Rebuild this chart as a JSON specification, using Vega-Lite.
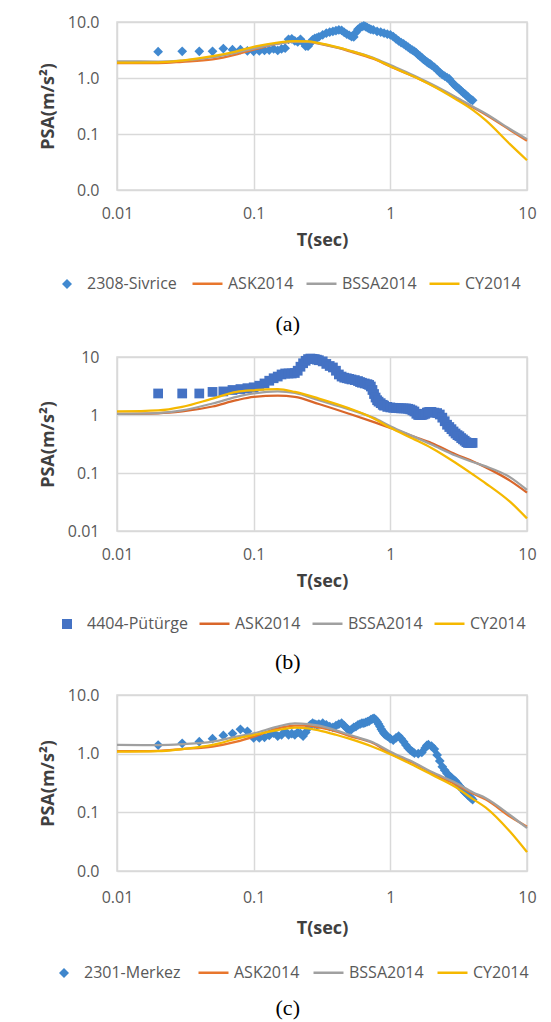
{
  "$schema": "https://vega.github.io/schema/vega-lite/v6.json",
  "background": "white",
  "padding": {"left": 38, "top": 13, "right": 5, "bottom": 0},
  "spacing": 12,
  "datasets": {
    "a_obs": [
      {"T":0.02,"2308-Sivrice":2.95},{"T":0.03,"2308-Sivrice":3.0},{"T":0.04,"2308-Sivrice":3.0},{"T":0.05,"2308-Sivrice":3.0},{"T":0.06,"2308-Sivrice":3.35},{"T":0.07,"2308-Sivrice":3.2},{"T":0.08,"2308-Sivrice":3.2},{"T":0.09,"2308-Sivrice":3.05},{"T":0.10,"2308-Sivrice":3.0},{"T":0.11,"2308-Sivrice":3.05},{"T":0.12,"2308-Sivrice":3.1},{"T":0.13,"2308-Sivrice":3.15},{"T":0.14,"2308-Sivrice":3.3},{"T":0.15,"2308-Sivrice":3.1},{"T":0.16,"2308-Sivrice":3.3},{"T":0.17,"2308-Sivrice":3.4},{"T":0.18,"2308-Sivrice":4.9},{"T":0.19,"2308-Sivrice":5.0},{"T":0.20,"2308-Sivrice":4.6},{"T":0.21,"2308-Sivrice":4.4},{"T":0.22,"2308-Sivrice":4.9},{"T":0.23,"2308-Sivrice":4.3},{"T":0.24,"2308-Sivrice":3.7},{"T":0.25,"2308-Sivrice":3.7},{"T":0.26,"2308-Sivrice":4.2},{"T":0.27,"2308-Sivrice":4.8},{"T":0.28,"2308-Sivrice":5.1},{"T":0.29,"2308-Sivrice":5.2},{"T":0.30,"2308-Sivrice":5.4},{"T":0.32,"2308-Sivrice":5.9},{"T":0.34,"2308-Sivrice":6.3},{"T":0.36,"2308-Sivrice":6.6},{"T":0.38,"2308-Sivrice":6.8},{"T":0.40,"2308-Sivrice":7.0},{"T":0.42,"2308-Sivrice":7.2},{"T":0.44,"2308-Sivrice":7.1},{"T":0.46,"2308-Sivrice":6.5},{"T":0.48,"2308-Sivrice":6.1},{"T":0.50,"2308-Sivrice":5.8},{"T":0.52,"2308-Sivrice":5.5},{"T":0.54,"2308-Sivrice":5.4},{"T":0.56,"2308-Sivrice":6.5},{"T":0.58,"2308-Sivrice":7.4},{"T":0.60,"2308-Sivrice":7.9},{"T":0.62,"2308-Sivrice":8.3},{"T":0.64,"2308-Sivrice":8.5},{"T":0.66,"2308-Sivrice":8.3},{"T":0.68,"2308-Sivrice":7.9},{"T":0.70,"2308-Sivrice":7.6},{"T":0.72,"2308-Sivrice":7.4},{"T":0.75,"2308-Sivrice":7.2},{"T":0.80,"2308-Sivrice":6.8},{"T":0.85,"2308-Sivrice":6.6},{"T":0.90,"2308-Sivrice":6.3},{"T":0.95,"2308-Sivrice":6.1},{"T":1.00,"2308-Sivrice":5.9},{"T":1.05,"2308-Sivrice":5.5},{"T":1.10,"2308-Sivrice":5.0},{"T":1.15,"2308-Sivrice":4.6},{"T":1.20,"2308-Sivrice":4.3},{"T":1.25,"2308-Sivrice":4.05},{"T":1.30,"2308-Sivrice":3.8},{"T":1.35,"2308-Sivrice":3.55},{"T":1.40,"2308-Sivrice":3.3},{"T":1.45,"2308-Sivrice":3.15},{"T":1.50,"2308-Sivrice":3.0},{"T":1.55,"2308-Sivrice":2.8},{"T":1.60,"2308-Sivrice":2.6},{"T":1.65,"2308-Sivrice":2.45},{"T":1.70,"2308-Sivrice":2.3},{"T":1.75,"2308-Sivrice":2.15},{"T":1.80,"2308-Sivrice":2.05},{"T":1.85,"2308-Sivrice":1.95},{"T":1.90,"2308-Sivrice":1.85},{"T":1.95,"2308-Sivrice":1.78},{"T":2.00,"2308-Sivrice":1.7},{"T":2.10,"2308-Sivrice":1.55},{"T":2.20,"2308-Sivrice":1.4},{"T":2.30,"2308-Sivrice":1.25},{"T":2.40,"2308-Sivrice":1.15},{"T":2.50,"2308-Sivrice":1.08},{"T":2.60,"2308-Sivrice":1.02},{"T":2.70,"2308-Sivrice":0.96},{"T":2.80,"2308-Sivrice":0.86},{"T":2.90,"2308-Sivrice":0.78},{"T":3.00,"2308-Sivrice":0.72},{"T":3.10,"2308-Sivrice":0.67},{"T":3.20,"2308-Sivrice":0.63},{"T":3.30,"2308-Sivrice":0.59},{"T":3.40,"2308-Sivrice":0.55},{"T":3.50,"2308-Sivrice":0.52},{"T":3.60,"2308-Sivrice":0.49},{"T":3.70,"2308-Sivrice":0.46},{"T":3.80,"2308-Sivrice":0.43},{"T":3.90,"2308-Sivrice":0.41},{"T":4.00,"2308-Sivrice":0.40}
    ],
    "a_gmm": [
      {"T":0.01,"ASK2014":1.85,"BSSA2014":1.98,"CY2014":1.88},
      {"T":0.02,"ASK2014":1.85,"BSSA2014":1.97,"CY2014":1.9},
      {"T":0.03,"ASK2014":1.95,"BSSA2014":2.05,"CY2014":2.05},
      {"T":0.05,"ASK2014":2.15,"BSSA2014":2.35,"CY2014":2.45},
      {"T":0.075,"ASK2014":2.65,"BSSA2014":2.85,"CY2014":3.0},
      {"T":0.1,"ASK2014":3.2,"BSSA2014":3.35,"CY2014":3.6},
      {"T":0.15,"ASK2014":4.1,"BSSA2014":4.1,"CY2014":4.3},
      {"T":0.2,"ASK2014":4.45,"BSSA2014":4.45,"CY2014":4.55},
      {"T":0.25,"ASK2014":4.4,"BSSA2014":4.4,"CY2014":4.5},
      {"T":0.3,"ASK2014":4.1,"BSSA2014":4.15,"CY2014":4.2},
      {"T":0.4,"ASK2014":3.5,"BSSA2014":3.55,"CY2014":3.6},
      {"T":0.5,"ASK2014":3.0,"BSSA2014":3.1,"CY2014":3.1},
      {"T":0.75,"ASK2014":2.2,"BSSA2014":2.3,"CY2014":2.25},
      {"T":1,"ASK2014":1.6,"BSSA2014":1.7,"CY2014":1.62},
      {"T":1.5,"ASK2014":1.05,"BSSA2014":1.1,"CY2014":1.05},
      {"T":2,"ASK2014":0.75,"BSSA2014":0.78,"CY2014":0.74},
      {"T":3,"ASK2014":0.45,"BSSA2014":0.46,"CY2014":0.42},
      {"T":4,"ASK2014":0.3,"BSSA2014":0.31,"CY2014":0.27},
      {"T":5,"ASK2014":0.22,"BSSA2014":0.23,"CY2014":0.175},
      {"T":7.5,"ASK2014":0.118,"BSSA2014":0.123,"CY2014":0.066},
      {"T":10,"ASK2014":0.076,"BSSA2014":0.081,"CY2014":0.034}
    ],
    "b_obs": [
      {"T":0.02,"4404-Pütürge":2.35},{"T":0.03,"4404-Pütürge":2.35},{"T":0.04,"4404-Pütürge":2.35},{"T":0.05,"4404-Pütürge":2.5},{"T":0.06,"4404-Pütürge":2.55},{"T":0.07,"4404-Pütürge":2.7},{"T":0.08,"4404-Pütürge":2.8},{"T":0.09,"4404-Pütürge":2.9},{"T":0.10,"4404-Pütürge":3.0},{"T":0.11,"4404-Pütürge":3.2},{"T":0.12,"4404-Pütürge":3.5},{"T":0.13,"4404-Pütürge":3.9},{"T":0.14,"4404-Pütürge":4.3},{"T":0.15,"4404-Pütürge":4.6},{"T":0.16,"4404-Pütürge":5.0},{"T":0.17,"4404-Pütürge":5.2},{"T":0.18,"4404-Pütürge":5.2},{"T":0.19,"4404-Pütürge":5.2},{"T":0.20,"4404-Pütürge":5.3},{"T":0.21,"4404-Pütürge":5.8},{"T":0.22,"4404-Pütürge":6.8},{"T":0.23,"4404-Pütürge":7.8},{"T":0.24,"4404-Pütürge":8.6},{"T":0.25,"4404-Pütürge":9.2},{"T":0.26,"4404-Pütürge":9.4},{"T":0.27,"4404-Pütürge":9.3},{"T":0.28,"4404-Pütürge":9.2},{"T":0.29,"4404-Pütürge":9.0},{"T":0.30,"4404-Pütürge":8.8},{"T":0.32,"4404-Pütürge":8.4},{"T":0.34,"4404-Pütürge":7.6},{"T":0.36,"4404-Pütürge":7.0},{"T":0.38,"4404-Pütürge":6.6},{"T":0.40,"4404-Pütürge":5.8},{"T":0.42,"4404-Pütürge":5.0},{"T":0.44,"4404-Pütürge":4.6},{"T":0.46,"4404-Pütürge":4.4},{"T":0.48,"4404-Pütürge":4.3},{"T":0.50,"4404-Pütürge":4.2},{"T":0.52,"4404-Pütürge":4.1},{"T":0.55,"4404-Pütürge":4.0},{"T":0.58,"4404-Pütürge":3.85},{"T":0.60,"4404-Pütürge":3.7},{"T":0.62,"4404-Pütürge":3.6},{"T":0.65,"4404-Pütürge":3.5},{"T":0.68,"4404-Pütürge":3.4},{"T":0.70,"4404-Pütürge":3.3},{"T":0.72,"4404-Pütürge":3.1},{"T":0.74,"4404-Pütürge":2.7},{"T":0.76,"4404-Pütürge":2.3},{"T":0.78,"4404-Pütürge":2.0},{"T":0.80,"4404-Pütürge":1.8},{"T":0.82,"4404-Pütürge":1.7},{"T":0.85,"4404-Pütürge":1.6},{"T":0.88,"4404-Pütürge":1.5},{"T":0.90,"4404-Pütürge":1.45},{"T":0.95,"4404-Pütürge":1.38},{"T":1.00,"4404-Pütürge":1.35},{"T":1.05,"4404-Pütürge":1.33},{"T":1.10,"4404-Pütürge":1.32},{"T":1.15,"4404-Pütürge":1.31},{"T":1.20,"4404-Pütürge":1.3},{"T":1.25,"4404-Pütürge":1.3},{"T":1.30,"4404-Pütürge":1.3},{"T":1.35,"4404-Pütürge":1.28},{"T":1.40,"4404-Pütürge":1.25},{"T":1.45,"4404-Pütürge":1.2},{"T":1.50,"4404-Pütürge":1.15},{"T":1.55,"4404-Pütürge":1.05},{"T":1.60,"4404-Pütürge":1.0},{"T":1.65,"4404-Pütürge":1.0},{"T":1.70,"4404-Pütürge":1.0},{"T":1.75,"4404-Pütürge":1.02},{"T":1.80,"4404-Pütürge":1.05},{"T":1.85,"4404-Pütürge":1.1},{"T":1.90,"4404-Pütürge":1.12},{"T":1.95,"4404-Pütürge":1.13},{"T":2.00,"4404-Pütürge":1.13},{"T":2.10,"4404-Pütürge":1.1},{"T":2.20,"4404-Pütürge":1.08},{"T":2.30,"4404-Pütürge":1.02},{"T":2.40,"4404-Pütürge":0.9},{"T":2.50,"4404-Pütürge":0.78},{"T":2.60,"4404-Pütürge":0.68},{"T":2.70,"4404-Pütürge":0.62},{"T":2.80,"4404-Pütürge":0.57},{"T":2.90,"4404-Pütürge":0.52},{"T":3.00,"4404-Pütürge":0.48},{"T":3.10,"4404-Pütürge":0.45},{"T":3.20,"4404-Pütürge":0.43},{"T":3.30,"4404-Pütürge":0.4},{"T":3.40,"4404-Pütürge":0.38},{"T":3.50,"4404-Pütürge":0.36},{"T":3.60,"4404-Pütürge":0.34},{"T":3.70,"4404-Pütürge":0.33},{"T":3.80,"4404-Pütürge":0.33},{"T":3.90,"4404-Pütürge":0.33},{"T":4.00,"4404-Pütürge":0.33}
    ],
    "b_gmm": [
      {"T":0.01,"ASK2014":1.05,"BSSA2014":1.05,"CY2014":1.15},
      {"T":0.02,"ASK2014":1.07,"BSSA2014":1.08,"CY2014":1.2},
      {"T":0.03,"ASK2014":1.15,"BSSA2014":1.2,"CY2014":1.38},
      {"T":0.05,"ASK2014":1.4,"BSSA2014":1.58,"CY2014":1.92},
      {"T":0.075,"ASK2014":1.8,"BSSA2014":2.05,"CY2014":2.5},
      {"T":0.1,"ASK2014":2.05,"BSSA2014":2.35,"CY2014":2.67},
      {"T":0.15,"ASK2014":2.15,"BSSA2014":2.55,"CY2014":2.78},
      {"T":0.2,"ASK2014":2.05,"BSSA2014":2.4,"CY2014":2.5},
      {"T":0.3,"ASK2014":1.55,"BSSA2014":1.8,"CY2014":1.92},
      {"T":0.5,"ASK2014":1.05,"BSSA2014":1.25,"CY2014":1.3},
      {"T":0.75,"ASK2014":0.76,"BSSA2014":0.9,"CY2014":0.88},
      {"T":1,"ASK2014":0.6,"BSSA2014":0.64,"CY2014":0.6},
      {"T":1.5,"ASK2014":0.42,"BSSA2014":0.42,"CY2014":0.38},
      {"T":2,"ASK2014":0.33,"BSSA2014":0.31,"CY2014":0.27},
      {"T":3,"ASK2014":0.21,"BSSA2014":0.2,"CY2014":0.15},
      {"T":4,"ASK2014":0.16,"BSSA2014":0.155,"CY2014":0.095},
      {"T":5,"ASK2014":0.125,"BSSA2014":0.13,"CY2014":0.066},
      {"T":7.5,"ASK2014":0.074,"BSSA2014":0.085,"CY2014":0.032},
      {"T":10,"ASK2014":0.046,"BSSA2014":0.051,"CY2014":0.0165}
    ],
    "c_obs": [
      {"T":0.02,"2301-Merkez":1.4},{"T":0.03,"2301-Merkez":1.5},{"T":0.04,"2301-Merkez":1.6},{"T":0.05,"2301-Merkez":1.8},{"T":0.06,"2301-Merkez":2.05},{"T":0.07,"2301-Merkez":2.2},{"T":0.08,"2301-Merkez":2.6},{"T":0.09,"2301-Merkez":2.4},{"T":0.10,"2301-Merkez":1.85},{"T":0.11,"2301-Merkez":1.85},{"T":0.12,"2301-Merkez":1.9},{"T":0.13,"2301-Merkez":2.05},{"T":0.14,"2301-Merkez":2.25},{"T":0.15,"2301-Merkez":2.0},{"T":0.16,"2301-Merkez":2.1},{"T":0.17,"2301-Merkez":2.4},{"T":0.18,"2301-Merkez":2.1},{"T":0.19,"2301-Merkez":2.2},{"T":0.20,"2301-Merkez":2.1},{"T":0.21,"2301-Merkez":2.3},{"T":0.22,"2301-Merkez":2.2},{"T":0.23,"2301-Merkez":2.0},{"T":0.24,"2301-Merkez":2.3},{"T":0.25,"2301-Merkez":2.7},{"T":0.26,"2301-Merkez":3.1},{"T":0.27,"2301-Merkez":3.3},{"T":0.28,"2301-Merkez":3.2},{"T":0.29,"2301-Merkez":3.1},{"T":0.30,"2301-Merkez":3.2},{"T":0.32,"2301-Merkez":3.3},{"T":0.34,"2301-Merkez":3.1},{"T":0.36,"2301-Merkez":2.9},{"T":0.38,"2301-Merkez":2.8},{"T":0.40,"2301-Merkez":3.0},{"T":0.42,"2301-Merkez":3.2},{"T":0.44,"2301-Merkez":3.3},{"T":0.46,"2301-Merkez":3.0},{"T":0.48,"2301-Merkez":2.7},{"T":0.50,"2301-Merkez":2.5},{"T":0.52,"2301-Merkez":2.6},{"T":0.54,"2301-Merkez":2.8},{"T":0.56,"2301-Merkez":2.9},{"T":0.58,"2301-Merkez":3.1},{"T":0.60,"2301-Merkez":3.2},{"T":0.62,"2301-Merkez":3.3},{"T":0.64,"2301-Merkez":3.3},{"T":0.66,"2301-Merkez":3.4},{"T":0.68,"2301-Merkez":3.5},{"T":0.70,"2301-Merkez":3.6},{"T":0.72,"2301-Merkez":3.8},{"T":0.74,"2301-Merkez":3.9},{"T":0.76,"2301-Merkez":4.0},{"T":0.78,"2301-Merkez":3.8},{"T":0.80,"2301-Merkez":3.5},{"T":0.82,"2301-Merkez":3.2},{"T":0.84,"2301-Merkez":2.9},{"T":0.86,"2301-Merkez":2.6},{"T":0.88,"2301-Merkez":2.4},{"T":0.90,"2301-Merkez":2.2},{"T":0.92,"2301-Merkez":2.1},{"T":0.95,"2301-Merkez":2.0},{"T":1.00,"2301-Merkez":1.8},{"T":1.05,"2301-Merkez":1.7},{"T":1.10,"2301-Merkez":1.85},{"T":1.15,"2301-Merkez":2.0},{"T":1.20,"2301-Merkez":1.8},{"T":1.25,"2301-Merkez":1.6},{"T":1.30,"2301-Merkez":1.4},{"T":1.35,"2301-Merkez":1.25},{"T":1.40,"2301-Merkez":1.15},{"T":1.45,"2301-Merkez":1.08},{"T":1.50,"2301-Merkez":1.02},{"T":1.60,"2301-Merkez":1.0},{"T":1.70,"2301-Merkez":1.05},{"T":1.80,"2301-Merkez":1.25},{"T":1.85,"2301-Merkez":1.38},{"T":1.90,"2301-Merkez":1.42},{"T":2.00,"2301-Merkez":1.35},{"T":2.10,"2301-Merkez":1.2},{"T":2.20,"2301-Merkez":0.95},{"T":2.30,"2301-Merkez":0.75},{"T":2.40,"2301-Merkez":0.6},{"T":2.50,"2301-Merkez":0.52},{"T":2.60,"2301-Merkez":0.46},{"T":2.70,"2301-Merkez":0.42},{"T":2.80,"2301-Merkez":0.39},{"T":2.90,"2301-Merkez":0.36},{"T":3.00,"2301-Merkez":0.34},{"T":3.10,"2301-Merkez":0.31},{"T":3.20,"2301-Merkez":0.28},{"T":3.30,"2301-Merkez":0.26},{"T":3.40,"2301-Merkez":0.24},{"T":3.50,"2301-Merkez":0.22},{"T":3.60,"2301-Merkez":0.21},{"T":3.70,"2301-Merkez":0.195},{"T":3.80,"2301-Merkez":0.185},{"T":3.90,"2301-Merkez":0.175},{"T":4.00,"2301-Merkez":0.165}
    ],
    "c_gmm": [
      {"T":0.01,"ASK2014":1.1,"BSSA2014":1.41,"CY2014":1.08},
      {"T":0.02,"ASK2014":1.12,"BSSA2014":1.4,"CY2014":1.1},
      {"T":0.03,"ASK2014":1.2,"BSSA2014":1.45,"CY2014":1.2},
      {"T":0.05,"ASK2014":1.32,"BSSA2014":1.6,"CY2014":1.41},
      {"T":0.075,"ASK2014":1.6,"BSSA2014":1.95,"CY2014":1.8},
      {"T":0.1,"ASK2014":1.95,"BSSA2014":2.22,"CY2014":2.08},
      {"T":0.15,"ASK2014":2.7,"BSSA2014":2.9,"CY2014":2.53},
      {"T":0.2,"ASK2014":3.0,"BSSA2014":3.29,"CY2014":2.78},
      {"T":0.25,"ASK2014":3.0,"BSSA2014":3.2,"CY2014":2.7},
      {"T":0.3,"ASK2014":2.8,"BSSA2014":3.0,"CY2014":2.5},
      {"T":0.4,"ASK2014":2.4,"BSSA2014":2.5,"CY2014":2.1},
      {"T":0.5,"ASK2014":2.0,"BSSA2014":2.1,"CY2014":1.8},
      {"T":0.75,"ASK2014":1.5,"BSSA2014":1.55,"CY2014":1.3},
      {"T":1,"ASK2014":1.0,"BSSA2014":1.08,"CY2014":0.98},
      {"T":1.5,"ASK2014":0.68,"BSSA2014":0.7,"CY2014":0.62},
      {"T":2,"ASK2014":0.47,"BSSA2014":0.49,"CY2014":0.44},
      {"T":3,"ASK2014":0.3,"BSSA2014":0.32,"CY2014":0.27},
      {"T":4,"ASK2014":0.21,"BSSA2014":0.22,"CY2014":0.17},
      {"T":5,"ASK2014":0.165,"BSSA2014":0.174,"CY2014":0.12},
      {"T":7.5,"ASK2014":0.085,"BSSA2014":0.09,"CY2014":0.047},
      {"T":10,"ASK2014":0.057,"BSSA2014":0.054,"CY2014":0.021}
    ]
  },
  "vconcat": [
    {
      "width": 410, "height": 168,
      "title": {"text": "(a)", "orient": "bottom", "offset": 22},
      "layer": [
        {
          "data": {"name": "a_obs"},
          "transform": [{"fold": ["2308-Sivrice"], "as": ["series", "psa"]}],
          "mark": {"type": "point", "shape": "diamond", "filled": true, "size": 95, "opacity": 1},
          "encoding": {
            "x": {"field": "T", "type": "quantitative", "scale": {"type": "log", "domain": [0.01, 10], "nice": false}, "axis": {"values": [0.01, 0.1, 1, 10], "format": "~g", "title": "T(sec)"}},
            "y": {"field": "psa", "type": "quantitative", "scale": {"type": "log", "domain": [0.01, 10], "nice": false}, "axis": {"values": [0.01, 0.1, 1, 10], "format": ".1f", "title": "PSA(m/s²)"}},
            "fill": {
              "field": "series", "type": "nominal",
              "scale": {"domain": ["2308-Sivrice"], "range": ["#4189D0"]},
              "legend": {"orient": "none", "direction": "horizontal", "title": null, "legendX": -58, "legendY": 254, "symbolType": "diamond", "symbolSize": 100, "labelOffset": 12}
            }
          }
        },
        {
          "data": {"name": "a_gmm"},
          "transform": [{"fold": ["ASK2014", "BSSA2014", "CY2014"], "as": ["series", "psa"]}],
          "mark": {"type": "line", "interpolate": "monotone", "strokeWidth": 2.25},
          "encoding": {
            "x": {"field": "T", "type": "quantitative"},
            "y": {"field": "psa", "type": "quantitative"},
            "stroke": {
              "field": "series", "type": "nominal",
              "scale": {"domain": ["ASK2014", "BSSA2014", "CY2014"], "range": ["#E8762D", "#A0A0A0", "#F5B800"]},
              "legend": {"orient": "none", "direction": "horizontal", "title": null, "legendX": 74, "legendY": 245, "symbolType": "stroke", "symbolSize": 900, "symbolStrokeWidth": 2.5, "labelOffset": 4, "columnPadding": 7}
            }
          }
        }
      ]
    },
    {
      "width": 410, "height": 174,
      "title": {"text": "(b)", "orient": "bottom", "offset": 20},
      "layer": [
        {
          "data": {"name": "b_obs"},
          "transform": [{"fold": ["4404-Pütürge"], "as": ["series", "psa"]}],
          "mark": {"type": "point", "shape": "square", "filled": true, "size": 95, "opacity": 1},
          "encoding": {
            "x": {"field": "T", "type": "quantitative", "scale": {"type": "log", "domain": [0.01, 10], "nice": false}, "axis": {"values": [0.01, 0.1, 1, 10], "format": "~g", "title": "T(sec)"}},
            "y": {"field": "psa", "type": "quantitative", "scale": {"type": "log", "domain": [0.01, 10], "nice": false}, "axis": {"values": [0.01, 0.1, 1, 10], "format": "~g", "title": "PSA(m/s²)"}},
            "fill": {
              "field": "series", "type": "nominal",
              "scale": {"domain": ["4404-Pütürge"], "range": ["#4472C4"]},
              "legend": {"orient": "none", "direction": "horizontal", "title": null, "legendX": -58, "legendY": 259, "symbolType": "square", "symbolSize": 100, "labelOffset": 12}
            }
          }
        },
        {
          "data": {"name": "b_gmm"},
          "transform": [{"fold": ["ASK2014", "BSSA2014", "CY2014"], "as": ["series", "psa"]}],
          "mark": {"type": "line", "interpolate": "monotone", "strokeWidth": 2.25},
          "encoding": {
            "x": {"field": "T", "type": "quantitative"},
            "y": {"field": "psa", "type": "quantitative"},
            "stroke": {
              "field": "series", "type": "nominal",
              "scale": {"domain": ["ASK2014", "BSSA2014", "CY2014"], "range": ["#D9662A", "#A0A0A0", "#F5B800"]},
              "legend": {"orient": "none", "direction": "horizontal", "title": null, "legendX": 81, "legendY": 250, "symbolType": "stroke", "symbolSize": 900, "symbolStrokeWidth": 2.5, "labelOffset": 4, "columnPadding": 6}
            }
          }
        }
      ]
    },
    {
      "width": 410, "height": 176,
      "title": {"text": "(c)", "orient": "bottom", "offset": 17},
      "layer": [
        {
          "data": {"name": "c_obs"},
          "transform": [{"fold": ["2301-Merkez"], "as": ["series", "psa"]}],
          "mark": {"type": "point", "shape": "diamond", "filled": true, "size": 95, "opacity": 1},
          "encoding": {
            "x": {"field": "T", "type": "quantitative", "scale": {"type": "log", "domain": [0.01, 10], "nice": false}, "axis": {"values": [0.01, 0.1, 1, 10], "format": "~g", "title": "T(sec)", "labelPadding": 18, "titlePadding": 14}},
            "y": {"field": "psa", "type": "quantitative", "scale": {"type": "log", "domain": [0.01, 10], "nice": false}, "axis": {"values": [0.01, 0.1, 1, 10], "format": ".1f", "title": "PSA(m/s²)"}},
            "fill": {
              "field": "series", "type": "nominal",
              "scale": {"domain": ["2301-Merkez"], "range": ["#3F86CC"]},
              "legend": {"orient": "none", "direction": "horizontal", "title": null, "legendX": -61, "legendY": 270, "symbolType": "diamond", "symbolSize": 100, "labelOffset": 12}
            }
          }
        },
        {
          "data": {"name": "c_gmm"},
          "transform": [{"fold": ["ASK2014", "BSSA2014", "CY2014"], "as": ["series", "psa"]}],
          "mark": {"type": "line", "interpolate": "monotone", "strokeWidth": 2.25},
          "encoding": {
            "x": {"field": "T", "type": "quantitative"},
            "y": {"field": "psa", "type": "quantitative"},
            "stroke": {
              "field": "series", "type": "nominal",
              "scale": {"domain": ["ASK2014", "BSSA2014", "CY2014"], "range": ["#E8762D", "#A0A0A0", "#F5B800"]},
              "legend": {"orient": "none", "direction": "horizontal", "title": null, "legendX": 80, "legendY": 261, "symbolType": "stroke", "symbolSize": 900, "symbolStrokeWidth": 2.5, "labelOffset": 4, "columnPadding": 8}
            }
          }
        }
      ]
    }
  ],
  "resolve": {"scale": {"fill": "independent", "stroke": "independent"}, "legend": {"fill": "independent", "stroke": "independent"}},
  "config": {
    "view": {"stroke": "#D9D9D9", "strokeWidth": 1.5},
    "axis": {
      "labelFont": "Open Sans", "labelFontSize": 16, "labelColor": "#595959",
      "titleFont": "Open Sans", "titleFontSize": 18, "titleFontWeight": "bold", "titleColor": "#404040",
      "gridColor": "#D9D9D9", "gridWidth": 1.5, "domain": false, "ticks": false, "tickSize": 0,
      "labelFlush": false, "labelOverlap": false
    },
    "axisX": {"labelPadding": 15, "titlePadding": 10},
    "axisY": {"labelPadding": 18, "titlePadding": 10},
    "legend": {
      "labelFont": "Open Sans", "labelFontSize": 16, "labelColor": "#595959", "padding": 0
    },
    "title": {"font": "Liberation Serif", "fontSize": 22, "fontWeight": "normal", "color": "#000000", "anchor": "middle", "frame": "bounds"}
  }
}
